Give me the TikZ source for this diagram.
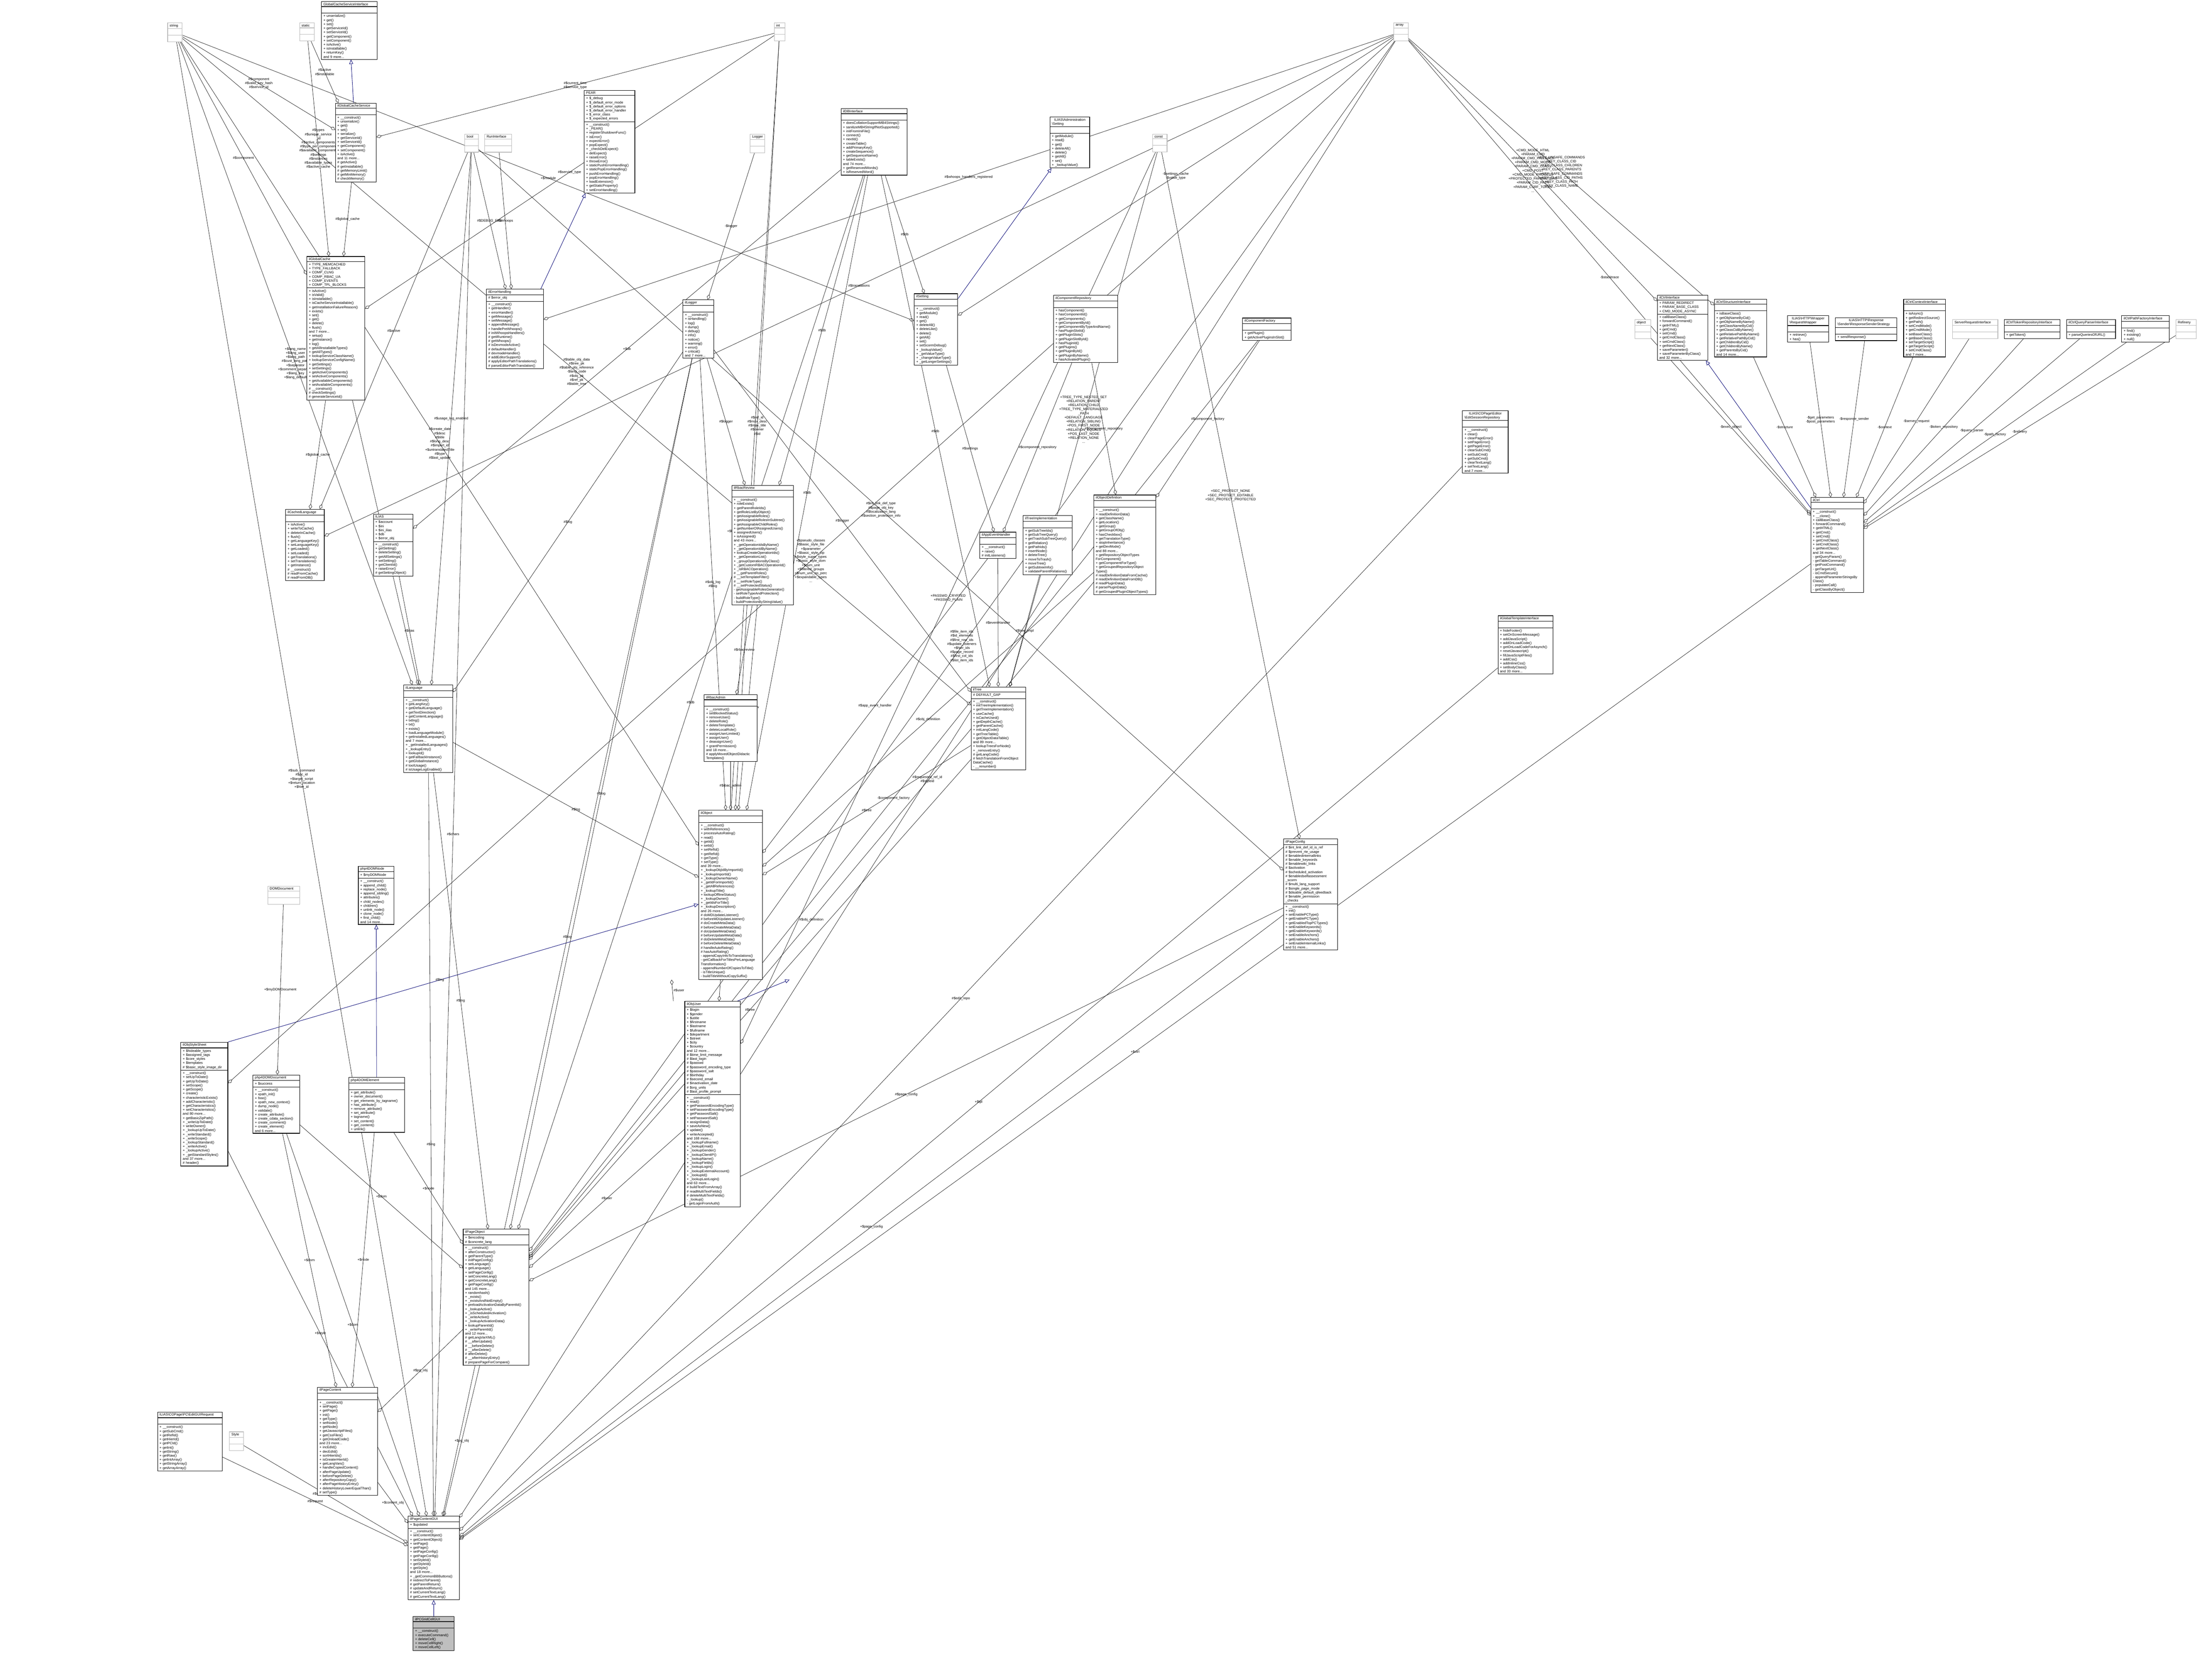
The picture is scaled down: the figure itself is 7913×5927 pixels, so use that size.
\documentclass[tikz,border=0pt]{standalone}
\usepackage{fontspec}
\setmainfont{Liberation Sans}
\usetikzlibrary{shapes.multipart,arrows.meta}
\pgfdeclarelayer{bg}
\pgfsetlayers{bg,main}
\catcode`\_=12
\tikzset{
  umlc/.style={rectangle split,rectangle split parts=3,draw=black,line width=0.5pt,fill=white,
    anchor=north west,inner xsep=2pt,inner ysep=1pt,align=left,
    font=\fontsize{3.5pt}{4.15pt}\selectfont},
  prim/.style={draw=gray!55},
  hl/.style={fill=gray!50},
  agg/.style={draw=gray!25!black,line width=0.35pt,-{Diamond[open,length=5.5pt,width=3.4pt]}},
  inh/.style={draw=blue!45!black,line width=0.4pt,-{Triangle[open,length=4.5pt,width=4pt]}},
  lbl/.style={font=\fontsize{3.5pt}{4.15pt}\selectfont,align=center,inner sep=1pt}
}
\newcommand\cls[8][]{\pgfmathsetlengthmacro\tw{#5cm-4pt}\node[umlc,#1,text width=\tw] (#2) at (#3,#4) {\centering #6\nodepart{two}\strut #7\nodepart{three}\strut #8};}
\newcommand\pcls[5]{\cls[prim]{#1}{#2}{#3}{#4}{#5}{}{}}
\newcommand\ag[3]{\draw[agg] (#1) -- node[lbl]{#3} (#2);}
\newcommand\agb[4]{\draw[agg] (#2) to[bend left=#1] node[lbl]{#4} (#3);}
\newcommand\bs{\textbackslash}
\begin{document}
\begin{tikzpicture}[x=0.01cm,y=-0.01cm]
\useasboundingbox (0,0) rectangle (7913,5927);
\begin{pgfonlayer}{bg}\fill[white] (0,0) rectangle (7913,5927);\end{pgfonlayer}
% primitive / undocumented
\pcls{string}{599}{81}{0.52}{string}
\pcls{static}{1071}{81}{0.52}{static}
\pcls{int}{2769}{81}{0.38}{int}
\pcls{array}{4985}{81}{0.52}{array}
\pcls{bool}{1662}{479}{0.48}{bool}
\pcls{RunInterface}{1733}{479}{0.97}{RunInterface}
\pcls{Logger}{2683}{479}{0.52}{Logger}
\pcls{const}{4122}{479}{0.52}{const}
\pcls{object}{5847}{1143}{0.57}{object}
\pcls{ServerReq}{6984}{1143}{1.62}{ServerRequestInterface}
\pcls{Refinery}{7783}{1143}{0.73}{Refinery}
\pcls{DOMDocument}{957}{3170}{1.14}{DOMDocument}
\pcls{Style}{820}{5122}{0.50}{Style}
% classes
\cls{GCSI}{1149}{5}{1.99}{GlobalCacheServiceInterface}{}{+ unserialize()\\+ get()\\+ set()\\+ getServiceId()\\+ setServiceId()\\+ getComponent()\\+ setComponent()\\+ isActive()\\+ isInstallable()\\+ returnKey()\\and 9 more...}
\cls{GCS}{1199}{368}{1.46}{ilGlobalCacheService}{}{+ __construct()\\+ unserialize()\\+ get()\\+ set()\\+ serialize()\\+ getServiceId()\\+ setServiceId()\\+ getComponent()\\+ setComponent()\\+ isActive()\\and 11 more...\\\# getActive()\\\# getInstallable()\\\# getMemoryLimit()\\\# getMinMemory()\\\# checkMemory()}
\cls{PEAR}{2089}{323}{1.81}{PEAR}{+ \$_debug\\+ \$_default_error_mode\\+ \$_default_error_options\\+ \$_default_error_handler\\+ \$_error_class\\+ \$_expected_errors}{+ __construct()\\+ _PEAR()\\+ registerShutdownFunc()\\+ isError()\\+ expectError()\\+ popExpect()\\+ _checkDelExpect()\\+ delExpect()\\+ raiseError()\\+ throwError()\\+ staticPushErrorHandling()\\+ staticPopErrorHandling()\\+ pushErrorHandling()\\+ popErrorHandling()\\+ loadExtension()\\+ getStaticProperty()\\+ setErrorHandling()}
\cls{GC}{1097}{917}{2.07}{ilGlobalCache}{+ TYPE_MEMCACHED\\+ TYPE_FALLBACK\\+ COMP_CLNG\\+ COMP_RBAC_UA\\+ COMP_EVENTS\\+ COMP_TPL_BLOCKS}{+ isActive()\\+ isValid()\\+ isInstallable()\\+ isCacheServiceInstallable()\\+ getInstallationFailureReason()\\+ exists()\\+ set()\\+ get()\\+ delete()\\+ flush()\\and 7 more...\\+ setup()\\+ getInstance()\\+ log()\\+ getAllInstallableTypes()\\+ getAllTypes()\\+ lookupServiceClassName()\\+ lookupServiceConfigName()\\+ getSettings()\\+ setSettings()\\+ getActiveComponents()\\+ setActiveComponents()\\+ getAvailableComponents()\\+ setAvailableComponents()\\\# __construct()\\\# checkSettings()\\\# generateServiceId()}
\cls{EH}{1739}{1034}{2.04}{ilErrorHandling}{\# \$error_obj}{+ __construct()\\+ getHandler()\\+ errorHandler()\\+ getMessage()\\+ setMessage()\\+ appendMessage()\\+ handlePreWhoops()\\\# initWhoopsHandlers()\\\# getIRuntime()\\\# getWhoops()\\\# isDevmodeActive()\\\# defaultHandler()\\\# devmodeHandler()\\\# addEditorSupport()\\\# applyEditorPathTranslations()\\\# parseEditorPathTranslation()}
\cls{ilLogger}{2442}{1072}{1.10}{ilLogger}{}{+ __construct()\\+ isHandling()\\+ log()\\+ dump()\\+ debug()\\+ info()\\+ notice()\\+ warning()\\+ error()\\+ critical()\\and 7 more...}
\cls{DB}{3008}{388}{2.36}{ilDBInterface}{}{+ doesCollationSupportMB4Strings()\\+ sanitizeMB4StringIfNotSupported()\\+ initFromIniFile()\\+ connect()\\+ nextId()\\+ createTable()\\+ addPrimaryKey()\\+ createSequence()\\+ getSequenceName()\\+ tableExists()\\and 74 more...\\+ getReservedWords()\\+ isReservedWord()}
\cls{AdmSetting}{3755}{418}{1.42}{ILIAS\bs Administration\\\bs Setting}{}{+ getModule()\\+ read()\\+ get()\\+ deleteAll()\\+ delete()\\+ getAll()\\+ set()\\+ _lookupValue()}
\cls{ilSetting}{3270}{1050}{1.55}{ilSetting}{}{+ __construct()\\+ getModule()\\+ read()\\+ get()\\+ deleteAll()\\+ deleteLike()\\+ delete()\\+ getAll()\\+ set()\\+ setScormDebug()\\+ _lookupValue()\\+ _getValueType()\\+ _changeValueType()\\+ _getLongerSettings()}
\cls{CompRepo}{3768}{1056}{2.29}{ilComponentRepository}{}{+ hasComponent()\\+ hasComponentId()\\+ getComponents()\\+ getComponentById()\\+ getComponentByTypeAndName()\\+ hasPluginSlotId()\\+ getPluginSlots()\\+ getPluginSlotById()\\+ hasPluginId()\\+ getPlugins()\\+ getPluginById()\\+ getPluginByName()\\+ hasActivatedPlugin()}
\cls{CompFac}{4444}{1137}{1.74}{ilComponentFactory}{}{+ getPlugin()\\+ getActivePluginsInSlot()}
\cls{CtrlIf}{5928}{1055}{1.80}{ilCtrlInterface}{+ PARAM_REDIRECT\\+ PARAM_BASE_CLASS\\+ CMD_MODE_ASYNC}{+ callBaseClass()\\+ forwardCommand()\\+ getHTML()\\+ getCmd()\\+ setCmd()\\+ getCmdClass()\\+ setCmdClass()\\+ getNextClass()\\+ saveParameter()\\+ saveParameterByClass()\\and 32 more...}
\cls{CtrlStruct}{6132}{1070}{1.87}{ilCtrlStructureInterface}{}{+ isBaseClass()\\+ getObjNameByCid()\\+ getObjNameByName()\\+ getClassNameByCid()\\+ getClassCidByName()\\+ getRelativePathByName()\\+ getRelativePathByCid()\\+ getChildrenByCid()\\+ getChildrenByName()\\+ getParentsByCid()\\and 14 more...}
\cls{ReqWrap}{6394}{1129}{1.47}{ILIAS\bs HTTP\bs Wrapper\\\bs RequestWrapper}{}{+ retrieve()\\+ has()}
\cls{RespSend}{6565}{1136}{2.20}{ILIAS\bs HTTP\bs Response\\\bs Sender\bs ResponseSenderStrategy}{}{+ sendResponse()}
\cls{CtrlCtx}{6809}{1070}{1.50}{ilCtrlContextInterface}{}{+ isAsync()\\+ getRedirectSource()\\+ getPath()\\+ setCmdMode()\\+ getCmdMode()\\+ setBaseClass()\\+ getBaseClass()\\+ setTargetScript()\\+ getTargetScript()\\+ setCmdClass()\\and 7 more...}
\cls{CtrlTok}{7169}{1143}{2.00}{ilCtrlTokenRepositoryInterface}{}{+ getToken()}
\cls{CtrlQP}{7392}{1143}{1.75}{ilCtrlQueryParserInterface}{}{+ parseQueriesOfURL()}
\cls{CtrlPF}{7589}{1129}{1.70}{ilCtrlPathFactoryInterface}{}{+ find()\\+ existing()\\+ null()}
\cls{ilCtrl}{6477}{1779}{1.88}{ilCtrl}{}{+ __construct()\\+ __clone()\\+ callBaseClass()\\+ forwardCommand()\\+ getHTML()\\+ getCmd()\\+ setCmd()\\+ getCmdClass()\\+ setCmdClass()\\+ getNextClass()\\and 34 more...\\- getQueryParam()\\- getTableCommand()\\- getPostCommand()\\- getTargetUrl()\\- isCmdSecure()\\- appendParameterStringsBy\\Class()\\- populateCall()\\- getClassByObject()}
\cls{ESR}{5231}{1469}{1.63}{ILIAS\bs COPage\bs Editor\\\bs EditSessionRepository}{}{+ __construct()\\+ clear()\\+ clearPageError()\\+ setPageError()\\+ getPageError()\\+ clearSubCmd()\\+ setSubCmd()\\+ getSubCmd()\\+ clearTextLang()\\+ setTextLang()\\and 7 more...}
\cls{CLang}{1021}{1822}{1.38}{ilCachedLanguage}{}{+ isActive()\\+ writeToCache()\\+ deleteInCache()\\+ flush()\\+ getLanguageKey()\\+ setLanguageKey()\\+ getLoaded()\\+ setLoaded()\\+ getTranslations()\\+ setTranslations()\\+ getInstance()\\\# __construct()\\\# readFromCache()\\\# readFromDB()}
\cls{ILIAS}{1335}{1839}{1.41}{ILIAS}{+ \$account\\+ \$ini\\+ \$ini_ilias\\+ \$db\\+ \$error_obj}{+ __construct()\\+ getSetting()\\+ deleteSetting()\\+ getAllSettings()\\+ setSetting()\\+ getClientId()\\+ raiseError()\\\# getSettingObject()}
\cls{Lang}{1443}{2450}{1.76}{ilLanguage}{}{+ __construct()\\+ getLangKey()\\+ getDefaultLanguage()\\+ getTextDirection()\\+ getContentLanguage()\\+ txtlng()\\+ txt()\\+ exists()\\+ loadLanguageModule()\\+ getInstalledLanguages()\\and 7 more...\\+ _getInstalledLanguages()\\+ _lookupEntry()\\+ lookupId()\\+ getFallbackInstance()\\+ getGlobalInstance()\\\# toolUsage()\\\# isUsageLogEnabled()}
\cls{RbacRev}{2617}{1736}{2.21}{ilRbacReview}{}{+ __construct()\\+ roleExists()\\+ getParentRoleIds()\\+ getRoleListByObject()\\+ getAssignableRoles()\\+ getAssignableRolesInSubtree()\\+ getAssignableChildRoles()\\+ getNumberOfAssignedUsers()\\+ assignedUsers()\\+ isAssigned()\\and 43 more...\\+ _getOperationIdsByName()\\+ _getOperationIdByName()\\+ lookupCreateOperationIds()\\+ _getOperationList()\\+ _groupOperationsByClass()\\+ _getCustomRBACOperationId()\\+ _isRBACOperation()\\\# __getParentRoles()\\\# __setTemplateFilter()\\\# __setRoleType()\\\# __setProtectedStatus()\\- getAssignableRolesGenerator()\\- setRoleTypeAndProtection()\\- buildRoleType()\\- buildProtectionByStringValue()}
\cls{RbacAdm}{2518}{2485}{1.89}{ilRbacAdmin}{}{+ __construct()\\+ setBlockedStatus()\\+ removeUser()\\+ deleteRole()\\+ deleteTemplate()\\+ deleteLocalRole()\\+ assignUserLimited()\\+ assignUser()\\+ deassignUser()\\+ grantPermission()\\and 18 more...\\\# applyMovedObjectDidactic\\Templates()}
\cls{AEH}{3504}{1903}{1.29}{ilAppEventHandler}{}{+ __construct()\\+ raise()\\\# initListeners()}
\cls{TreeImpl}{3659}{1844}{1.76}{ilTreeImplementation}{}{+ getSubTreeIds()\\+ getSubTreeQuery()\\+ getTrashSubTreeQuery()\\+ getRelation()\\+ getPathIds()\\+ insertNode()\\+ deleteTree()\\+ moveToTrash()\\+ moveTree()\\+ getSubtreeInfo()\\+ validateParentRelations()}
\cls{ObjDef}{3912}{1770}{2.22}{ilObjectDefinition}{}{+ __construct()\\+ readDefinitionData()\\+ getClassName()\\+ getLocation()\\+ getGroup()\\+ getGroupOfObj()\\+ hasCheckbox()\\+ getTranslationType()\\+ stopInheritance()\\+ getDevMode()\\and 88 more...\\+ getRepositoryObjectTypes\\ForComponent()\\+ getComponentForType()\\+ getGroupedRepositoryObject\\Types()\\\# readDefinitionDataFromCache()\\\# readDefinitionDataFromDB()\\\# readPluginData()\\\# parsePluginData()\\\# getGroupedPluginObjectTypes()}
\cls{Tree}{3473}{2457}{1.95}{ilTree}{\# DEFAULT_GAP}{+ __construct()\\+ initTreeImplementation()\\+ getTreeImplementation()\\+ useCache()\\+ isCacheUsed()\\+ getDepthCache()\\+ getParentCache()\\+ initLangCode()\\+ getTreeTable()\\+ getObjectDataTable()\\and 89 more...\\+ lookupTreesForNode()\\+ _removeEntry()\\\# getLangCode()\\\# fetchTranslationFromObject\\DataCache()\\- __renumber()}
\cls{Obj}{2499}{2898}{2.27}{ilObject}{}{+ __construct()\\+ withReferences()\\+ processAutoRating()\\+ read()\\+ getId()\\+ setId()\\+ setRefId()\\+ getRefId()\\+ getType()\\+ setType()\\and 39 more...\\+ _lookupObjIdByImportId()\\+ _lookupImportId()\\+ _lookupOwnerName()\\+ _getIdForImportId()\\+ _getAllReferences()\\+ _lookupTitle()\\+ lookupOfflineStatus()\\+ _lookupOwner()\\+ _getIdsForTitle()\\+ _lookupDescription()\\and 26 more...\\\# doMDUpdateListener()\\\# beforeMDUpdateListener()\\\# doCreateMetaData()\\\# beforeCreateMetaData()\\\# doUpdateMetaData()\\\# beforeUpdateMetaData()\\\# doDeleteMetaData()\\\# beforeDeleteMetaData()\\\# handleAutoRating()\\\# hasAutoRating()\\- appendCopyInfoToTranslations()\\- getCallbackForTitlesPerLanguage\\Transformation()\\- appendNumberOfCopiesToTitle()\\- isTitleUnique()\\- buildTitleWithoutCopySuffix()}
\cls{User}{2449}{3582}{1.99}{ilObjUser}{+ \$login\\+ \$gender\\+ \$utitle\\+ \$firstname\\+ \$lastname\\+ \$fullname\\+ \$department\\+ \$street\\+ \$city\\+ \$country\\and 12 more...\\\# \$time_limit_message\\\# \$last_login\\\# \$passwd\\\# \$password_encoding_type\\\# \$password_salt\\\# \$birthday\\\# \$second_email\\\# \$inactivation_date\\\# \$org_units\\\# \$last_profile_prompt}{+ __construct()\\+ read()\\+ getPasswordEncodingType()\\+ setPasswordEncodingType()\\+ getPasswordSalt()\\+ setPasswordSalt()\\+ assignData()\\+ saveAsNew()\\+ update()\\+ writeAccepted()\\and 168 more...\\+ _lookupFullname()\\+ _lookupEmail()\\+ _lookupGender()\\+ _lookupClientIP()\\+ _lookupName()\\+ _lookupFields()\\+ _lookupLogin()\\+ _lookupExternalAccount()\\+ _lookupId()\\+ _lookupLastLogin()\\and 63 more...\\\# buildTextFromArray()\\\# readMultiTextFields()\\\# deleteMultiTextFields()\\- _lookup()\\- getLoginFromAuth()}
\cls{PConf}{4591}{3001}{1.93}{ilPageConfig}{\# \$int_link_def_id_is_ref\\\# \$prevent_rte_usage\\\# \$enabledinternallinks\\\# \$enable_keywords\\\# \$enablewiki_links\\\# \$activation\\\# \$scheduled_activation\\\# \$enabledselfassessment\\_scorm\\\# \$multi_lang_support\\\# \$single_page_mode\\\# \$disable_default_qfeedback\\\# \$enable_permission\\_checks}{+ __construct()\\+ init()\\+ setEnablePCType()\\+ getEnablePCType()\\+ getEnabledTopPCTypes()\\+ setEnableKeywords()\\+ getEnableKeywords()\\+ setEnableAnchors()\\+ getEnableAnchors()\\+ setEnableInternalLinks()\\and 51 more...}
\cls{GTpl}{5358}{2202}{1.96}{ilGlobalTemplateInterface}{}{+ hideFooter()\\+ setOnScreenMessage()\\+ addJavaScript()\\+ addOnLoadCode()\\+ getOnLoadCodeForAsynch()\\+ resetJavascript()\\+ fillJavaScriptFiles()\\+ addCss()\\+ addInlineCss()\\+ setBodyClass()\\and 33 more...}
\cls{DNode}{1281}{3098}{1.28}{php4DOMNode}{+ \$myDOMNode}{+ __construct()\\+ append_child()\\+ replace_node()\\+ append_sibling()\\+ attributes()\\+ child_nodes()\\+ children()\\+ unlink_node()\\+ clone_node()\\+ first_child()\\and 14 more...}
\cls{DElem}{1247}{3854}{1.99}{php4DOMElement}{}{+ get_attribute()\\+ owner_document()\\+ get_elements_by_tagname()\\+ has_attribute()\\+ remove_attribute()\\+ set_attribute()\\+ tagname()\\+ set_content()\\+ get_content()\\+ unlink()}
\cls{DDoc}{904}{3845}{1.67}{php4DOMDocument}{+ \$success}{+ __construct()\\+ xpath_init()\\+ free()\\+ xpath_new_context()\\+ dump_node()\\+ validate()\\+ create_attribute()\\+ create_cdata_section()\\+ create_comment()\\+ create_element()\\and 6 more...}
\cls{StyleSheet}{646}{3728}{1.68}{ilObjStyleSheet}{+ \$hideable_types\\+ \$assigned_tags\\+ \$core_styles\\+ \$templates\\\# \$basic_style_image_dir}{+ __construct()\\+ setUpToDate()\\+ getUpToDate()\\+ setScope()\\+ getScope()\\+ create()\\+ characteristicExists()\\+ addCharacteristic()\\+ getCharacteristics()\\+ setCharacteristics()\\and 80 more...\\+ getBasicZipPath()\\+ _writeUpToDate()\\+ writeOwner()\\+ _lookupUpToDate()\\+ _writeStandard()\\+ _writeScope()\\+ _lookupStandard()\\+ _writeActive()\\+ _lookupActive()\\+ _getStandardStyles()\\and 37 more...\\\# header()}
\cls{PObj}{1656}{4397}{2.35}{ilPageObject}{+ \$encoding\\\# \$concrete_lang}{+ __construct()\\+ afterConstructor()\\+ getParentType()\\+ initPageConfig()\\+ setLanguage()\\+ getLanguage()\\+ setPageConfig()\\+ setConcreteLang()\\+ getConcreteLang()\\+ getPageConfig()\\and 145 more...\\+ randomhash()\\+ _exists()\\+ _existsAndNotEmpty()\\+ preloadActivationDataByParentId()\\+ _lookupActive()\\+ _isScheduledActivation()\\+ _writeActive()\\+ _lookupActivationData()\\+ lookupParentId()\\+ _writeParentId()\\and 12 more...\\\# getLangVarXML()\\\# __afterUpdate()\\\# __beforeDelete()\\\# __afterDelete()\\\# afterDelete()\\\# __afterHistoryEntry()\\\# preparePageForCompare()}
\cls{PCont}{1135}{4963}{2.15}{ilPageContent}{}{+ __construct()\\+ setPage()\\+ getPage()\\+ init()\\+ getType()\\+ setNode()\\+ getNode()\\+ getJavascriptFiles()\\+ getCssFiles()\\+ getOnloadCode()\\and 23 more...\\+ incEdId()\\+ decEdId()\\+ sortHierIds()\\+ isGreaterHierId()\\+ getLangVars()\\+ handleCopiedContent()\\+ afterPageUpdate()\\+ beforePageDelete()\\+ afterRepositoryCopy()\\+ afterPageHistoryEntry()\\+ deleteHistoryLowerEqualThan()\\\# setType()}
\cls{EGR}{563}{5051}{2.31}{ILIAS\bs COPage\bs PC\bs EditGUIRequest}{}{+ __construct()\\+ getSubCmd()\\+ getRefId()\\+ getHierId()\\+ getPCId()\\+ getInt()\\+ getString()\\+ getRaw()\\+ getIntArray()\\+ getStringArray()\\+ getArrayArray()}
\cls{PCGUI}{1459}{5424}{1.83}{ilPageContentGUI}{+ \$updated}{+ __construct()\\+ setContentObject()\\+ getContentObject()\\+ setPage()\\+ getPage()\\+ setPageConfig()\\+ getPageConfig()\\+ setStyleId()\\+ getStyleId()\\+ getStyle()\\and 18 more...\\+ _getCommonBBButtons()\\\# redirectToParent()\\\# getParentReturn()\\\# updateAndReturn()\\\# setCurrentTextLang()\\\# getCurrentTextLang()}
\cls[hl]{Grid}{1477}{5783}{1.47}{ilPCGridCellGUI}{}{+ __construct()\\+ executeCommand()\\+ deleteCell()\\+ moveCellRight()\\+ moveCellLeft()}
\begin{pgfonlayer}{bg}
% inheritance
\draw[inh] (GCS) -- (GCSI);
\draw[inh] ([xshift=-3pt]EH.north east) -- (PEAR);
\draw[inh] (ilSetting) -- (AdmSetting);
\draw[inh] (ilCtrl) -- (CtrlIf);
\draw[inh] (DElem) -- (DNode);
\draw[inh] ([xshift=25]User.north) -- ([xshift=60]Obj.south);
\draw[inh] (StyleSheet.north east) -- node[lbl,pos=0.45]{\#\$lng} (Obj);
\draw[inh] (Grid) -- (PCGUI);
% aggregations
\ag{string}{GCS}{\#\$component\\\#\$valid_key_hash\\\#\$service_id}
\ag{static}{GCS}{\#\$active\\\#\$installable}
\ag{int}{GCS}{\#\$current_time\\\#\$service_type}
\ag{string}{GC}{\#\$component}
\ag{static}{GC}{\#\$types\\\#\$unique_service\\_id\\\#\$active_components\\\#\$type_per_component\\\#\$available_components\\\#\$settings\\\#\$instances\\\#\$available_types\\\#\$active_cache}
\ag{GCS}{GC}{\#\$global_cache}
\ag{int}{GC}{\#\$service_type}
\ag{bool}{EH}{\#\$DEBUG_ENV}
\ag{RunInterface}{EH}{\#\$whoops}
\ag{array}{EH}{\#\$whoops_handlers_registered}
\ag{Logger}{ilLogger}{-\$logger}
\ag{GC}{CLang}{\#\$global_cache}
\ag{bool}{CLang}{\#\$active}
\ag{array}{CLang}{\#\$translations}
\ag{GC}{Lang}{\#\$global_cache}
\ag{ILIAS}{Lang}{\#\$ilias}
\ag{bool}{Lang}{\#\$usage_log_enabled}
\ag{string}{Lang}{+\$lang_name\\+\$lang_user\\+\$lang_path\\\#\$cust_lang_path\\+\$separator\\+\$comment_separator\\+\$lang_key\\+\$lang_default}
\ag{ilLogger}{Lang}{\#\$log}
\ag{DB}{ILIAS}{+\$db}
\ag{DB}{ilSetting}{\#\$db}
\ag{string}{ilSetting}{+\$module}
\ag{array}{ilSetting}{-\$settings_cache\\-\$value_type}
\ag{DB}{Tree}{\#\$db}
\ag{DB}{Obj}{\#\$db}
\ag{DB}{PObj}{\#\$db}
\ag{DB}{RbacRev}{\#\$db}
\ag{ilLogger}{RbacRev}{\#\$logger}
\ag{ilLogger}{Tree}{\#\$logger}
\ag{ilLogger}{Obj}{\#\$obj_log\\\#\$log}
\ag{ilLogger}{PObj}{\#\$log}
\ag{ilLogger}{PCGUI}{\#\$log}
\ag{CompRepo}{AEH}{\#\$component_repository}
\ag{CompRepo}{ObjDef}{\#\$component_repository}
\ag{CompFac}{ObjDef}{\#\$component_factory}
\ag{CompFac}{PObj}{-\$component_factory}
\ag{ilSetting}{AEH}{\#\$settings}
\ag{AEH}{Tree}{\#\$eventHandler}
\ag{TreeImpl}{Tree}{\#\$tree_impl}
\ag{const}{Tree}{+TREE_TYPE_NESTED_SET\\+RELATION_PARENT\\+RELATION_CHILD\\+TREE_TYPE_MATERIALIZED\\_PATH\\+DEFAULT_LANGUAGE\\+RELATION_SIBLING\\+POS_FIRST_NODE\\+RELATION_EQUALS\\+POS_LAST_NODE\\+RELATION_NONE\\...}
\ag{string}{Tree}{\#\$table_obj_data\\\#\$tree_pk\\\#\$table_obj_reference\\-\$lang_code\\\#\$obj_pk\\\#\$ref_pk\\\#\$table_tree}
\ag{Tree}{Obj}{\#\$tree}
\ag{Tree}{PObj}{\#\$tree}
\ag{ObjDef}{Obj}{\#\$obj_definition}
\ag{ObjDef}{PObj}{\#\$obj_definition}
\ag{AEH}{Obj}{\#\$app_event_handler}
\ag{RbacRev}{RbacAdm}{\#\$rbacreview}
\ag{RbacRev}{Obj}{\#\$rbac_review}
\ag{RbacAdm}{Obj}{\#\$rbac_admin}
\ag{Lang}{Obj}{\#\$lng}
\ag{Lang}{PObj}{\#\$lng}
\ag{Lang}{PCGUI}{\#\$lng}
\ag{string}{Obj}{\#\$create_date\\\#\$desc\\\#\$title\\\#\$long_desc\\\#\$import_id\\+\$untranslatedTitle\\\#\$type\\\#\$last_update}
\ag{int}{Obj}{\#\$ref_id\\\#\$max_desc\\\#\$max_title\\\#\$owner\\\#\$id}
\draw[agg] ([xshift=-40]User.north) -- node[lbl,right]{\#\$user} ([xshift=-60]Obj.south);
\ag{User}{PObj}{\#\$user}
\ag{const}{User}{+PASSWD_CRYPTED\\+PASSWD_PLAIN}
\ag{int}{User}{+\$time_limit_owner\\+\$active\\+\$time_limit_from\\+\$time_limit_until\\+\$login_attempts\\+\$last_password_change_ts}
\ag{DElem}{PCont}{+\$node}
\ag{DElem}{PObj}{+\$node}
\ag{DDoc}{PCont}{+\$dom}
\ag{DDoc}{PObj}{+\$dom}
\ag{DDoc}{PCGUI}{+\$dom}
\ag{DOMDocument}{DDoc}{+\$myDOMDocument}
\ag{array}{StyleSheet}{+\$pseudo_classes\\\#\$basic_style_file\\+\$parameter\\+\$basic_style_zip\\+\$style_super_types\\+\$basic_style_dom\\+\$num_unit\\+\$filtered_groups\\+\$num_unit_no_perc\\+\$expandable_types\\...}
\ag{StyleSheet}{PCGUI}{+\$style}
\ag{PObj}{PCont}{\#\$pg_obj}
\ag{PObj}{PCGUI}{+\$pg_obj}
\ag{PCont}{PCGUI}{+\$content_obj}
\ag{EGR}{PCGUI}{\#\$request}
\ag{Style}{PCGUI}{\#\$char_manager}
\ag{PConf}{PObj}{\#\$page_config}
\ag{PConf}{PCGUI}{+\$page_config}
\ag{GTpl}{PCGUI}{+\$tpl}
\ag{ilCtrl}{PCGUI}{+\$ctrl}
\ag{ESR}{PCGUI}{\#\$edit_repo}
\ag{string}{PCGUI}{\#\$sub_command\\\#\$pc_id\\+\$target_script\\+\$return_location\\+\$hier_id}
\ag{bool}{PCGUI}{\#\$chars}
\ag{array}{PCGUI}{\#\$requested_ref_id\\\#\$styleid}
\ag{array}{PObj}{\#\$file_item_ids\\\#\$id_elements\\\#\$first_row_ids\\\#\$update_listeners\\+\$hier_ids\\\#\$page_record\\\#\$first_col_ids\\\#\$list_item_ids}
\ag{bool}{PConf}{\#\$int_link_def_type\\\#\$page_obj_key\\\#\$localization_lang\\\#\$section_protection_info}
\ag{const}{PConf}{+SEC_PROTECT_NONE\\+SEC_PROTECT_EDITABLE\\+SEC_PROTECT_PROTECTED}
\ag{array}{CtrlIf}{+CMD_MODE_HTML\\+PARAM_CMD\\+PARAM_CMD_FALLBACK\\+PARAM_CMD_MODE\\+PARAM_CMD_CLASS\\+CMD_POST\\+CMD_MODE_PROCESS\\+PROTECTED_PARAMETERS\\+PARAM_CID_PATH\\+PARAM_CSRF_TOKEN\\...}
\ag{array}{CtrlStruct}{+KEY_UNSAFE_COMMANDS\\+KEY_CLASS_CID\\+KEY_CLASS_CHILDREN\\+KEY_CLASS_PARENTS\\+KEY_SAFE_COMMANDS\\+KEY_CLASS_CID_PATHS\\+KEY_CLASS_PATH\\+KEY_CLASS_NAME}
\ag{array}{ilCtrl}{-\$stacktrace}
\ag{object}{ilCtrl}{-\$exec_object}
\ag{CtrlStruct}{ilCtrl}{-\$structure}
\ag{ReqWrap}{ilCtrl}{-\$get_parameters\\-\$post_parameters}
\ag{RespSend}{ilCtrl}{-\$response_sender}
\ag{CtrlCtx}{ilCtrl}{-\$context}
\ag{ServerReq}{ilCtrl}{-\$server_request}
\ag{CtrlTok}{ilCtrl}{-\$token_repository}
\ag{CtrlQP}{ilCtrl}{-\$query_parser}
\ag{CtrlPF}{ilCtrl}{-\$path_factory}
\ag{Refinery}{ilCtrl}{-\$refinery}
\end{pgfonlayer}
\end{tikzpicture}
\end{document}
